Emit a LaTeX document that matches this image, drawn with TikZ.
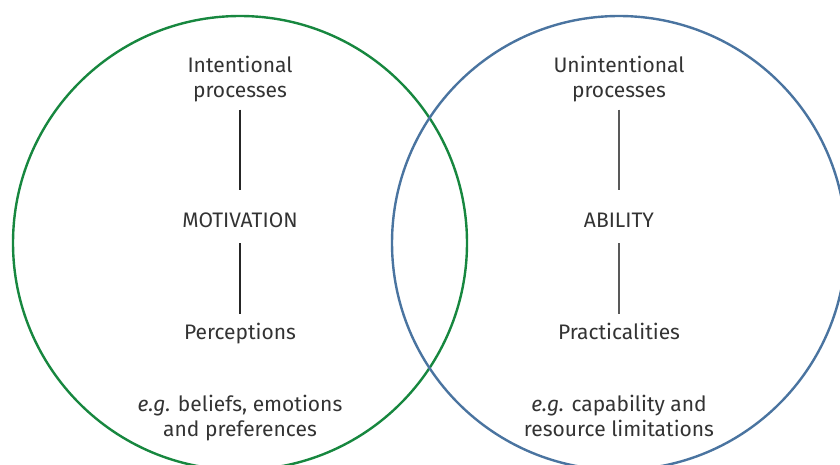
\documentclass[tikz,border=0pt]{standalone}
\usepackage{fontspec}
\setmainfont{Fira Sans}
\usetikzlibrary{positioning}

\definecolor{motivgreen}{HTML}{17873F}
\definecolor{abilblue}{HTML}{4A74A0}
\definecolor{txtgray}{HTML}{333333}

\begin{document}
\begin{tikzpicture}[x=1pt, y=-1pt,
    ring/.style={line width=2.4pt},
    lbl/.style={text=txtgray, font=\fontsize{21}{25}\selectfont, align=center, inner sep=0pt, anchor=base},
    link/.style={line width=1.1pt}]
  \useasboundingbox (0,0) rectangle (840,465);
  \clip (0,0) rectangle (840,465);

  % the two overlapping circles
  \draw[ring, motivgreen] (240,243) circle (227pt);
  \draw[ring, abilblue] (619,243) circle (227pt);

  % left: motivation
  \node[lbl] (intent) at (240,98) {Intentional\\processes};
  \node[lbl] (motiv) at (240,227) {MOTIVATION};
  \node[lbl] (percep) at (240,339) {Perceptions};
  \node[lbl] (beliefs) at (240,436) {\textit{e.g.} beliefs, emotions\\and preferences};
  \draw[link, black!85, shorten <=7pt, shorten >=22pt] (intent) -- (motiv);
  \draw[link, black!85, shorten <=16pt, shorten >=8pt] (motiv) -- (percep);

  % right: ability
  \node[lbl] (unintent) at (619,98) {Unintentional\\processes};
  \node[lbl] (abil) at (619,227) {ABILITY};
  \node[lbl] (practic) at (619,339) {Practicalities};
  \node[lbl] (capab) at (619,436) {\textit{e.g.} capability and\\resource limitations};
  \draw[link, black!65, shorten <=7pt, shorten >=22pt] (unintent) -- (abil);
  \draw[link, black!65, shorten <=16pt, shorten >=8pt] (abil) -- (practic);
\end{tikzpicture}
\end{document}
